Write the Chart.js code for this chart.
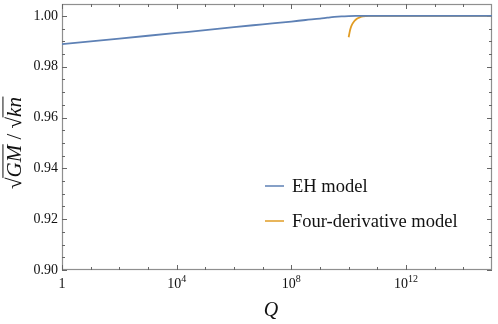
<!DOCTYPE html>
<html><head><meta charset="utf-8">
<script src="https://cdn.jsdelivr.net/npm/chart.js@4"></script>
<style>html,body{margin:0;padding:0;background:#fff}#c{display:block}</style>
</head><body>
<canvas id="c" width="498" height="324"></canvas>
<script>
// ---- data (Q given as powers of ten) ----
const seriesNames = ["EH model", "Four-derivative model"];
const ehQExp = [0, 1, 2, 3, 4, 5, 6, 7, 8, 8.5, 9, 9.25, 9.5, 9.75, 10, 10.25, 10.5, 11, 12, 13, 14, 15];
const ehVal  = [0.9889, 0.9900, 0.9911, 0.9922, 0.9933, 0.9944, 0.9956, 0.9967, 0.9978, 0.9984, 0.99895, 0.9993, 0.99962, 0.99984, 0.99995, 1.0, 1.0, 1.0, 1.0, 1.0, 1.0, 1.0];
const fdQExp = [10.0, 10.05, 10.1, 10.2, 10.3, 10.4, 10.5, 10.7, 11, 12, 13, 14, 15];
const fdVal  = [0.9916, 0.9945, 0.9962, 0.9980, 0.9990, 0.9995, 0.9998, 1.0, 1.0, 1.0, 1.0, 1.0, 1.0];
const yMajorTicks = [0.90, 0.92, 0.94, 0.96, 0.98, 1.00];
const yMinorTicks = [0.905, 0.91, 0.915, 0.925, 0.93, 0.935, 0.945, 0.95, 0.955, 0.965, 0.97, 0.975, 0.985, 0.99, 0.995];
const xMajorExp = [0, 4, 8, 12];
const xMinorExp = [1, 2, 3, 5, 6, 7, 9, 10, 11, 13, 14];

const COLORS = ["#5E81B5", "#E19C24"];
const SERIF = "'Liberation Serif', 'DejaVu Serif', serif";

function pts(ex, v) { return ex.map((e, i) => ({ x: Math.pow(10, e), y: v[i] })); }

const framePlugin = {
  id: 'frame',
  beforeDatasetsDraw(chart) {
    const { ctx, chartArea: a, scales: { x, y } } = chart;
    ctx.save();
    ctx.strokeStyle = '#8f8f8f';
    ctx.lineWidth = 1.2;
    ctx.strokeRect(a.left + 0.5, a.top + 0.5, a.right - a.left - 1, a.bottom - a.top - 1);
    ctx.lineWidth = 1;
    ctx.strokeStyle = '#666';
    ctx.beginPath();
    const tick = (px, len, vert) => {
      if (vert) {
        ctx.moveTo(px, a.bottom); ctx.lineTo(px, a.bottom - len);
        ctx.moveTo(px, a.top); ctx.lineTo(px, a.top + len);
      } else {
        ctx.moveTo(a.left, px); ctx.lineTo(a.left + len, px);
        ctx.moveTo(a.right, px); ctx.lineTo(a.right - len, px);
      }
    };
    xMajorExp.forEach(e => tick(Math.round(x.getPixelForValue(Math.pow(10, e))) + 0.5, 5, true));
    xMinorExp.forEach(e => tick(Math.round(x.getPixelForValue(Math.pow(10, e))) + 0.5, 3, true));
    yMajorTicks.forEach(v => tick(Math.round(y.getPixelForValue(v)) + 0.5, 5, false));
    yMinorTicks.forEach(v => tick(Math.round(y.getPixelForValue(v)) + 0.5, 3, false));
    ctx.stroke();

    // tick labels
    ctx.fillStyle = '#111';
    ctx.font = '14px ' + SERIF;
    ctx.textAlign = 'right';
    ctx.textBaseline = 'middle';
    yMajorTicks.forEach(v => ctx.fillText(v.toFixed(2), a.left - 4, y.getPixelForValue(v)));
    ctx.textBaseline = 'alphabetic';
    xMajorExp.forEach(e => {
      const px = x.getPixelForValue(Math.pow(10, e));
      const base = a.bottom + 18;
      if (e === 0) {
        ctx.textAlign = 'center';
        ctx.font = '14px ' + SERIF;
        ctx.fillText('1', px, base);
        return;
      }
      ctx.font = '14px ' + SERIF;
      const w1 = ctx.measureText('10').width;
      ctx.font = '10px ' + SERIF;
      const w2 = ctx.measureText(String(e)).width;
      const start = px - (w1 + w2) / 2;
      ctx.textAlign = 'left';
      ctx.font = '14px ' + SERIF;
      ctx.fillText('10', start, base);
      ctx.font = '10px ' + SERIF;
      ctx.fillText(String(e), start + w1, base - 6);
    });

    // x axis title
    ctx.font = 'italic 20px ' + SERIF;
    ctx.textAlign = 'center';
    ctx.fillText('Q', (a.left + a.right) / 2 - 6, 316);

    // y axis title: √GM / √kn
    ctx.save();
    ctx.translate(21, 143);
    ctx.rotate(-Math.PI / 2);
    const fs = 21;
    const parts = [
      { t: '\u221A', it: false, over: false },
      { t: 'GM', it: true, over: true },
      { t: ' / ', it: false, over: false },
      { t: '\u221A', it: false, over: false },
      { t: 'kn', it: true, over: true }
    ];
    let total = 0;
    parts.forEach(p => { ctx.font = (p.it ? 'italic ' : '') + fs + 'px ' + SERIF; p.w = ctx.measureText(p.t).width; total += p.w; });
    let cx = -total / 2;
    ctx.textAlign = 'left';
    ctx.strokeStyle = '#111';
    ctx.lineWidth = 1;
    parts.forEach(p => {
      ctx.font = (p.it ? 'italic ' : '') + fs + 'px ' + SERIF;
      ctx.fillText(p.t, cx, 0);
      if (p.over) {
        ctx.beginPath();
        ctx.moveTo(cx - 0.5, -fs * 0.86);
        ctx.lineTo(cx + p.w + 0.5, -fs * 0.86);
        ctx.stroke();
      }
      cx += p.w;
    });
    ctx.restore();
    ctx.restore();
  },
  afterDatasetsDraw(chart) {
    const { ctx } = chart;
    ctx.save();
    ctx.font = '18.5px ' + SERIF;
    ctx.fillStyle = '#111';
    ctx.textAlign = 'left';
    ctx.textBaseline = 'middle';
    const rows = [186, 221];
    chart.data.datasets.forEach((ds, i) => {
      ctx.strokeStyle = ds.borderColor;
      ctx.lineWidth = 1.5;
      ctx.beginPath();
      ctx.moveTo(265, rows[i]); ctx.lineTo(284, rows[i]);
      ctx.stroke();
      ctx.fillText(ds.label, 292, rows[i] + 1);
    });
    ctx.restore();
  }
};

new Chart(document.getElementById('c'), {
  type: 'line',
  data: {
    datasets: [
      { label: seriesNames[0], data: pts(ehQExp, ehVal), borderColor: COLORS[0], borderWidth: 1.8, pointRadius: 0, cubicInterpolationMode: 'monotone', fill: false },
      { label: seriesNames[1], data: pts(fdQExp, fdVal), borderColor: COLORS[1], borderWidth: 1.8, pointRadius: 0, cubicInterpolationMode: 'monotone', fill: false }
    ]
  },
  options: {
    responsive: false,
    animation: false,
    devicePixelRatio: 1,
    layout: { padding: { left: 62, right: 6, top: 4, bottom: 54 } },
    plugins: { legend: { display: false }, tooltip: { enabled: false } },
    scales: {
      x: { type: 'logarithmic', min: 1, max: 1e15, display: false },
      y: { type: 'linear', min: 0.90, max: 1.0047, display: false }
    }
  },
  plugins: [framePlugin]
});
</script>
</body></html>
